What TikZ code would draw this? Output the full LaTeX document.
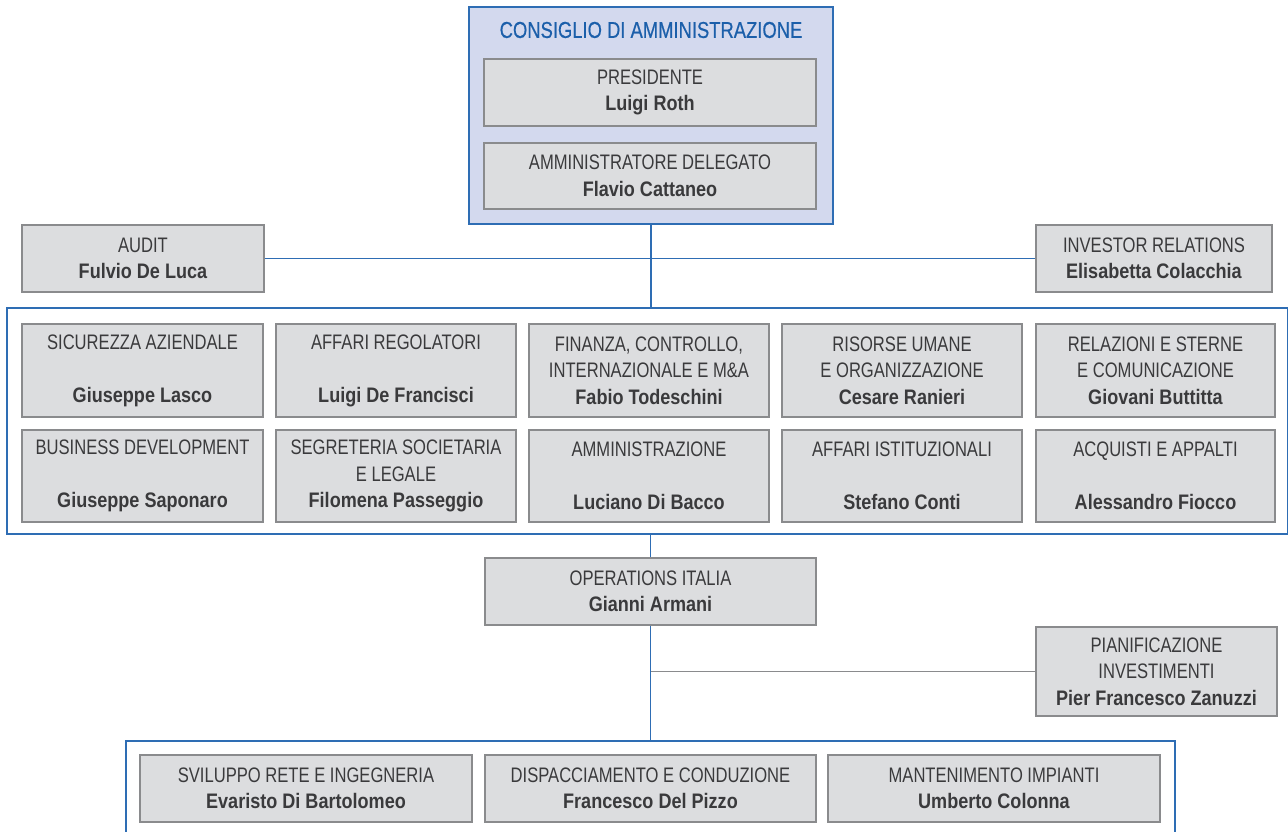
\documentclass[tikz,border=0pt]{standalone}
\usepackage{fontspec}
\setmainfont[FakeStretch=0.79,BoldFeatures={FakeStretch=0.86}]{Liberation Sans}
\newfontfamily\titlefont[FakeStretch=0.8,FakeBold=0.5]{Liberation Sans}
\definecolor{gfill}{HTML}{DCDDDF}
\definecolor{gline}{HTML}{8A8B8D}
\definecolor{bline}{HTML}{2E6DB4}
\definecolor{lav}{HTML}{D3D9EE}
\definecolor{tblue}{HTML}{1B5FAA}
\definecolor{txt}{HTML}{3A3A3C}
\begin{document}
\begin{tikzpicture}[x=1pt,y=-1pt,
  gbox/.style={draw=gline,fill=gfill,line width=1.3pt,inner sep=0pt,align=center,text=txt,
    font=\fontsize{21}{26.5}\selectfont},
  bbox/.style={draw=bline,line width=1.5pt,inner sep=0pt},
  bconn/.style={draw=bline,line width=1.3pt},
  gconn/.style={draw=gline,line width=1.3pt}]
\useasboundingbox (0,0) rectangle (1288,832);
\clip (0,0) rectangle (1288,832);
\fill[white] (0,0) rectangle (1288,832);
% board
\node[bbox,fill=lav,minimum width=364,minimum height=217] (cda) at (651,115.5) {};
\node[text=tblue,font=\titlefont\fontsize{23}{26}\selectfont,inner sep=0pt] (cdat) at (651,30) {CONSIGLIO DI AMMINISTRAZIONE};
\node[gbox,minimum width=332,minimum height=67] (pres) at (650,92.5) {PRESIDENTE\\\textbf{Luigi Roth}};
\node[gbox,minimum width=332,minimum height=66] (ad) at (650,176) {AMMINISTRATORE DELEGATO\\\textbf{Flavio Cattaneo}};
% staff
\node[gbox,minimum width=242,minimum height=67] (audit) at (143,258.5) {AUDIT\\\textbf{Fulvio De Luca}};
\node[gbox,minimum width=236,minimum height=67] (inv) at (1154,258.5) {INVESTOR RELATIONS\\\textbf{Elisabetta Colacchia}};
% big frame
\node[bbox,minimum width=1280.5,minimum height=226] (big) at (647.25,421) {};
% row 1
\node[gbox,minimum width=241,minimum height=93] (sic) at (142.5,370.5) {SICUREZZA AZIENDALE\\\mbox{}\\\textbf{Giuseppe Lasco}};
\node[gbox,minimum width=240,minimum height=93] (reg) at (396,370.5) {AFFARI REGOLATORI\\\mbox{}\\\textbf{Luigi De Francisci}};
\node[gbox,minimum width=240,minimum height=93] (fin) at (649,370.5) {FINANZA, CONTROLLO,\\INTERNAZIONALE E M\&A\\\textbf{Fabio Todeschini}};
\node[gbox,minimum width=240,minimum height=93] (ris) at (902,370.5) {RISORSE UMANE\\E ORGANIZZAZIONE\\\textbf{Cesare Ranieri}};
\node[gbox,minimum width=239,minimum height=93] (rel) at (1155.5,370.5) {RELAZIONI E STERNE\\E COMUNICAZIONE\\\textbf{Giovani Buttitta}};
% row 2
\node[gbox,minimum width=241,minimum height=92] (bus) at (142.5,476) {BUSINESS DEVELOPMENT\\\mbox{}\\\textbf{Giuseppe Saponaro}};
\node[gbox,minimum width=240,minimum height=92] (seg) at (396,476) {SEGRETERIA SOCIETARIA\\E LEGALE\\\textbf{Filomena Passeggio}};
\node[gbox,minimum width=240,minimum height=92] (amm) at (649,476) {AMMINISTRAZIONE\\\mbox{}\\\textbf{Luciano Di Bacco}};
\node[gbox,minimum width=240,minimum height=92] (ist) at (902,476) {AFFARI ISTITUZIONALI\\\mbox{}\\\textbf{Stefano Conti}};
\node[gbox,minimum width=239,minimum height=92] (acq) at (1155.5,476) {ACQUISTI E APPALTI\\\mbox{}\\\textbf{Alessandro Fiocco}};
% operations
\node[gbox,minimum width=331,minimum height=67] (ops) at (650.5,591.5) {OPERATIONS ITALIA\\\textbf{Gianni Armani}};
\node[gbox,minimum width=241,minimum height=89] (pian) at (1156.5,671.5) {PIANIFICAZIONE\\INVESTIMENTI\\\textbf{Pier Francesco Zanuzzi}};
% bottom frame
\node[bbox,minimum width=1049,minimum height=140,anchor=north west] (bot) at (125,740) {};
\node[gbox,minimum width=332,minimum height=67] (svi) at (306,788.5) {SVILUPPO RETE E INGEGNERIA\\\textbf{Evaristo Di Bartolomeo}};
\node[gbox,minimum width=331,minimum height=67] (dis) at (650.5,788.5) {DISPACCIAMENTO E CONDUZIONE\\\textbf{Francesco Del Pizzo}};
\node[gbox,minimum width=332,minimum height=67] (man) at (994,788.5) {MANTENIMENTO IMPIANTI\\\textbf{Umberto Colonna}};
% connectors
\draw[bconn] (cda.south) -- (cda.south |- big.north);
\draw[bconn] (audit.east) -- (inv.west);
\draw[bconn] (ops.north |- big.south) -- (ops.north);
\draw[bconn] (ops.south) -- (ops.south |- bot.north);
\coordinate (pj) at (ops.south |- pian.west);
\draw[gconn] (pian.west) -- (pj);
\end{tikzpicture}
\end{document}
